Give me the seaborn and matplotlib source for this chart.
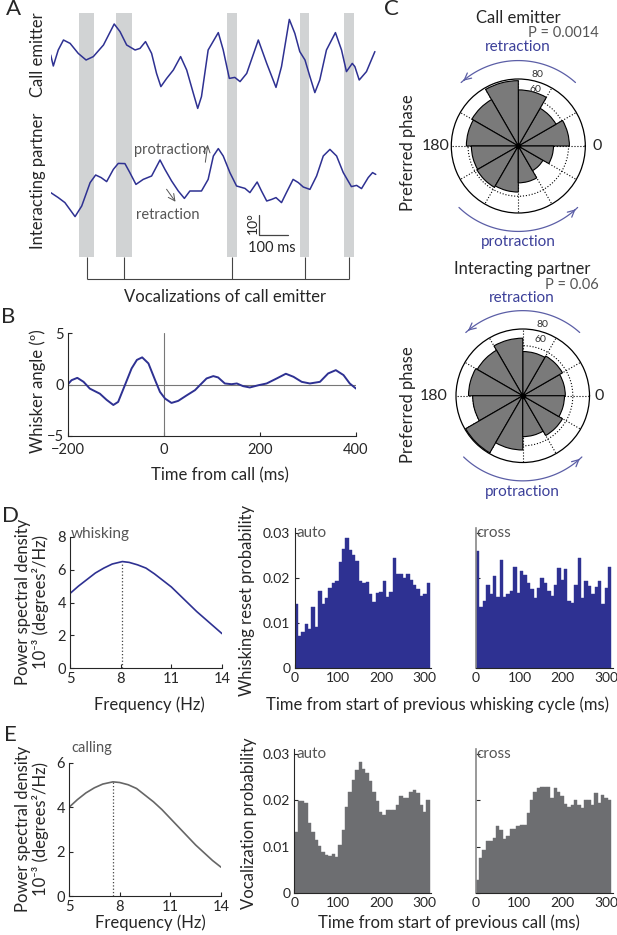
import numpy as np
import pandas as pd
import seaborn as sns
import matplotlib.pyplot as plt

sns.set_theme(style="ticks")
plt.rcParams['font.family'] = ['Lato', 'DejaVu Sans']
plt.rcParams['axes.linewidth'] = 0.8
plt.rcParams['xtick.direction'] = 'in'
plt.rcParams['ytick.direction'] = 'in'
plt.rcParams['xtick.major.size'] = 3
plt.rcParams['ytick.major.size'] = 3
plt.rcParams['xtick.major.width'] = 0.8
plt.rcParams['ytick.major.width'] = 0.8

NAVY = '#2E3192'
GRAY_BAR = '#6D6E71'
TXT_GRAY = '#555555'
LAB = 12      # axis label size
TICK = 10     # tick label size

# ---- panel A: example whisker traces (ms, degrees) ----
call_t = [0, 9, 26, 44, 67, 95, 122, 147, 182, 219, 239, 262, 291, 308, 327, 348, 365, 380, 400, 423,
          448, 469, 492, 507, 520, 543, 578, 595, 616, 635, 653, 676, 716, 745, 777, 796, 823, 842, 859, 877,
          894, 911, 928, 951, 982, 1003, 1020, 1040, 1049, 1064, 1089, 1118]
call_deg = [2.5, -3, 5, 10, 8.3, 3.3, 0, 1.7, 7.5, 18, 14.2, 7.5, 5, 5.8, 9.2, 3.3, -6.7, -13.3, -9.2, -5,
            1.7, -5, -16.7, -24.2, -18.3, 5, 13.7, 5, -9.2, -8.7, -10.8, -6.7, 10, -1.7, -13.7, -3.3, 20.3, 13.3, 4.2, 0,
            -8.3, -16.3, -10, 5, 13.7, 5, -5.8, -1.7, -3.3, -10, -5.8, 4.2]
partner_t = [0, 26, 49, 84, 107, 136, 155, 174, 193, 216, 233, 256, 273, 294, 319, 348, 377, 394, 417, 440,
             461, 480, 498, 520, 543, 561, 578, 595, 618, 641, 670, 687, 712, 727, 745, 762, 777, 796, 813, 836,
             854, 871, 894, 917, 940, 963, 986, 1009, 1037, 1055, 1072, 1095, 1110, 1121]
partner_deg = [-3.3, -5.8, -8.3, -15.3, -10, 1.7, 5.5, 4.2, 2.2, 8.3, 11.3, 11.2, 6.7, 0.8, 3.3, 5, 13, 8.3, 2.5, -2.5,
               -6.2, -2.5, -2.5, -2.5, 3.3, 15, 18.7, 15, 6.7, 0, -1.2, -3.3, 2, -2.5, -7.5, -6.7, -5.8, -8.3, -3.3, 3.3,
               1.7, -0.5, -1.7, 5, 15, 18.3, 15, 6.7, -0.3, 0.3, -1.3, 4.2, 6.7, 5.8]
voc_on = [98, 225, 608, 860, 1011]
voc_off = [149, 280, 642, 891, 1046]

# ---- panel B: call-triggered whisker angle ----
b_t = [-200, -192, -180, -167, -154, -133, -119, -105, -95, -81, -67, -56, -45, -32, -18, -8, 2.5, 16, 30, 48,
       65, 75, 89, 103, 113, 127, 141, 152, 165, 179, 197, 214, 235, 254, 270, 287, 304, 325, 342, 358,
       374, 387, 400]
b_deg = [0, 0.42, 0.65, 0.26, -0.4, -0.9, -1.5, -2.0, -1.7, -0.07, 1.57, 2.4, 2.65, 2.06, 0.42, -0.72, -1.37, -1.8, -1.6, -1.05,
         -0.55, -0.07, 0.59, 0.82, 0.69, 0.1, 0.03, 0.1, -0.16, -0.29, -0.07, 0.1, 0.59, 1.05, 0.75, 0.26, 0.1, 0.26, 1.08, 1.4,
         0.92, 0.1, -0.4]

# ---- panel C: preferred phase roses (bins of 30 deg starting at 0) ----
phase_start = [0, 30, 60, 90, 120, 150, 180, 210, 240, 270, 300, 330]
emitter_counts = [61, 52, 67, 78, 64, 62, 56, 57, 55, 44, 34, 42]
partner_counts = [51, 55, 53, 69, 63, 65, 60, 79, 65, 49, 55, 50]

# ---- panels D/E: spectra ----
whisk_f = [5, 5.5, 6, 6.5, 7, 7.5, 8.1, 8.5, 9, 9.5, 10, 10.5, 11, 11.5, 12, 12.5, 13, 13.5, 14]
whisk_psd = [4.55, 5.0, 5.4, 5.8, 6.1, 6.35, 6.5, 6.45, 6.3, 6.1, 5.75, 5.35, 4.95, 4.45, 3.95, 3.45, 3.0, 2.55, 2.1]
whisk_peak = 8.1
call_f = [5, 5.5, 6, 6.5, 7, 7.6, 8, 8.5, 9, 9.5, 10, 10.5, 11, 11.5, 12, 12.5, 13, 13.5, 14]
call_psd = [4.0, 4.35, 4.65, 4.88, 5.05, 5.15, 5.12, 5.02, 4.85, 4.55, 4.25, 3.9, 3.5, 3.1, 2.7, 2.3, 1.95, 1.6, 1.3]
call_peak = 7.6

# ---- panels D/E: histograms (probability per bin) ----
bin_width = 7.8
whisk_auto = [0.0142, 0.0071, 0.0080, 0.0098, 0.0086, 0.0136, 0.0091, 0.0171, 0.0142, 0.0156,
              0.0177, 0.0188, 0.0194, 0.0236, 0.0265, 0.0290, 0.0262, 0.0252, 0.0238, 0.0193,
              0.0190, 0.0192, 0.0165, 0.0146, 0.0166, 0.0170, 0.0193, 0.0158, 0.0170, 0.0245,
              0.0208, 0.0210, 0.0200, 0.0208, 0.0196, 0.0185, 0.0175, 0.0160, 0.0165, 0.0190]
whisk_cross = [0.0260, 0.0136, 0.0148, 0.0185, 0.0164, 0.0205, 0.0158, 0.0240, 0.0158, 0.0164,
               0.0172, 0.0225, 0.0167, 0.0215, 0.0206, 0.0189, 0.0175, 0.0156, 0.0178, 0.0200,
               0.0189, 0.0171, 0.0160, 0.0185, 0.0222, 0.0196, 0.0220, 0.0148, 0.0145, 0.0185,
               0.0245, 0.0156, 0.0194, 0.0182, 0.0164, 0.0180, 0.0194, 0.0142, 0.0178, 0.0225]
call_auto = [0.0131, 0.0199, 0.0198, 0.0194, 0.0151, 0.0133, 0.0115, 0.0101, 0.0090, 0.0083,
             0.0081, 0.0085, 0.0078, 0.0104, 0.0137, 0.0186, 0.0219, 0.0245, 0.0266, 0.0282,
             0.0268, 0.0259, 0.0241, 0.0219, 0.0198, 0.0176, 0.0169, 0.0180, 0.0180, 0.0180,
             0.0191, 0.0209, 0.0205, 0.0205, 0.0219, 0.0222, 0.0216, 0.0191, 0.0176, 0.0201]
call_cross = [0.0029, 0.0076, 0.0094, 0.0112, 0.0113, 0.0119, 0.0144, 0.0137, 0.0117, 0.0124,
              0.0138, 0.0138, 0.0144, 0.0147, 0.0147, 0.0173, 0.0201, 0.0219, 0.0227, 0.0229,
              0.0229, 0.0229, 0.0205, 0.0227, 0.0219, 0.0209, 0.0193, 0.0186, 0.0191, 0.0201,
              0.0191, 0.0183, 0.0201, 0.0201, 0.0191, 0.0216, 0.0194, 0.0212, 0.0205, 0.0200]

W, H = 617, 935
fig = plt.figure(figsize=(W / 100, H / 100), dpi=100)


def add_ax(l, t, r, b, **kw):
    return fig.add_axes([l / W, 1 - b / H, (r - l) / W, (b - t) / H], **kw)


def ftext(x, y, s, **kw):
    kw.setdefault('ha', 'center')
    kw.setdefault('va', 'center')
    fig.text(x / W, 1 - y / H, s, **kw)


# panel letters
for letter, (x, y) in zip('ABCDE', [(14, 9), (8, 317), (391, 9), (10, 516), (10, 735)]):
    ftext(x, y, letter, fontsize=16)

# ================= A =================
axA = add_ax(50.7, 13, 376.9, 279)
axA.set_xlim(0, 1125)
axA.set_ylim(-109.5, 23.5)
axA.axis('off')
partner_offset = -63
for on, off in zip(voc_on, voc_off):
    axA.bar(on, 23.5 + 98.5, width=off - on, bottom=-98.5, align='edge', color='#D1D3D4', lw=0)
sns.lineplot(x=call_t, y=call_deg, ax=axA, color=NAVY, lw=1.1, solid_joinstyle='round')
sns.lineplot(x=partner_t, y=np.array(partner_deg) + partner_offset, ax=axA, color=NAVY, lw=1.1,
             solid_joinstyle='round')
mids = [(a + b) / 2 for a, b in zip(voc_on, voc_off)]
axA.vlines(mids, -109.5, -98.5, color='#444444', lw=0.8, clip_on=False)
axA.hlines(-109.5, mids[0], mids[-1], color='#444444', lw=0.8, clip_on=False)
# scale bar
axA.plot([718, 718, 818], [-77.5, -87.5, -87.5], color='#444444', lw=0.9)
axA.text(697, -81.5, '10°', rotation=90, ha='center', va='center', fontsize=10)
axA.text(764, -94, '100 ms', ha='center', va='center', fontsize=10.5)
axA.text(411, -45, 'protraction', ha='center', va='center', fontsize=10.5, color=TXT_GRAY)
axA.annotate('', xy=(543, -41), xytext=(532, -52.5),
             arrowprops=dict(arrowstyle='->', color=TXT_GRAY, lw=0.7))
axA.text(405, -77.5, 'retraction', ha='center', va='center', fontsize=10.5, color=TXT_GRAY)
axA.annotate('', xy=(436, -72), xytext=(394, -63.5),
             arrowprops=dict(arrowstyle='->', color=TXT_GRAY, lw=0.7))
ftext(38, 55, 'Call emitter', rotation=90, fontsize=LAB)
ftext(38, 181, 'Interacting partner', rotation=90, fontsize=LAB)
ftext(225, 297, 'Vocalizations of call emitter', fontsize=LAB)

# ================= B =================
axB = add_ax(67.7, 333.3, 356, 435.7)
axB.axhline(0, color='#777777', lw=0.8)
axB.plot([0, 0], [-5, 5], color='#777777', lw=0.8)
sns.lineplot(x=b_t, y=b_deg, ax=axB, color=NAVY, lw=1.4)
axB.set_xlim(-200, 400)
axB.set_ylim(-5, 5)
axB.set_xticks([-200, 0, 200, 400])
axB.set_yticks([-5, 0, 5])
axB.tick_params(labelsize=10.5)
axB.tick_params(axis='x', pad=5)
axB.tick_params(axis='y', pad=3)
sns.despine(ax=axB)
ftext(38, 391, 'Whisker angle (º)', rotation=90, fontsize=LAB)
ftext(220, 475, 'Time from call (ms)', fontsize=LAB)

# ================= C =================
ARC = '#5B5EA6'
ARC_TXT = '#3B3F99'


def rose(l, t, r, b, counts):
    ax = add_ax(l, t, r, b, projection='polar')
    ax.bar(np.deg2rad(phase_start), counts, width=np.deg2rad(30), align='edge',
           color='#7A7A7A', edgecolor='black', lw=0.8, zorder=2)
    ax.set_ylim(0, 80)
    ax.set_xticks(np.deg2rad(np.arange(0, 360, 30)))
    ax.set_yticks([60])
    ax.set_xticklabels([])
    ax.set_yticklabels([])
    ax.grid(True, color='black', ls=':', lw=0.8)
    ax.set_axisbelow(True)
    ax.spines['polar'].set_color('black')
    ax.spines['polar'].set_linewidth(0.9)
    ax.plot(0, 0, 'o', color='black', ms=3, zorder=3)
    ax.text(np.deg2rad(75), 89, '80', fontsize=7.5, ha='center', va='center', color='#333333')
    ax.text(np.deg2rad(73), 71, '60', fontsize=7.5, ha='center', va='center', color='#333333')
    for a0, a1 in [(48, 132), (226, 314)]:
        th = np.deg2rad(np.linspace(a0, a1, 60))
        ax.plot(th, np.full_like(th, 102), color=ARC, lw=0.9, clip_on=False)
        ax.annotate('', xy=(th[-1], 102), xytext=(th[-4], 102), annotation_clip=False,
                    arrowprops=dict(arrowstyle='->', color=ARC, lw=0.9))
    return ax


rose(451.3, 79, 585.3, 213, emitter_counts)
ftext(518, 18, 'Call emitter', fontsize=LAB)
ftext(599, 33, 'P = 0.0014', fontsize=10.5, ha='right', color=TXT_GRAY)
ftext(518, 47, 'retraction', fontsize=11, color=ARC_TXT)
ftext(518, 242, 'protraction', fontsize=11, color=ARC_TXT)
ftext(408, 153, 'Preferred phase', rotation=90, fontsize=LAB)
ftext(436, 146, '180', fontsize=11.5)
ftext(597, 146, '0', fontsize=11.5)

rose(456, 329, 589.5, 462.5, partner_counts)
ftext(522, 269, 'Interacting partner', fontsize=LAB)
ftext(599, 285, 'P = 0.06', fontsize=10.5, ha='right', color=TXT_GRAY)
ftext(522, 298, 'retraction', fontsize=11, color=ARC_TXT)
ftext(522, 492, 'protraction', fontsize=11, color=ARC_TXT)
ftext(408, 405, 'Preferred phase', rotation=90, fontsize=LAB)
ftext(434, 396, '180', fontsize=11.5)
ftext(599, 396, '0', fontsize=11.5)


# ================= D / E =================
def psd_panel(l, t, r, b, f, p, peak, ymax, yticks, color):
    ax = add_ax(l, t, r, b)
    sns.lineplot(x=f, y=p, ax=ax, color=color, lw=1.2)
    ax.plot([peak, peak], [0, max(p)], color='#444444', ls=':', lw=0.9)
    ax.set_xlim(5, 14)
    ax.set_ylim(0, ymax)
    ax.set_xticks([5, 8, 11, 14])
    ax.set_yticks(yticks)
    ax.tick_params(labelsize=10.5, pad=3)
    sns.despine(ax=ax)
    return ax


def hist_panel(l, t, r, b, vals, color, label, show_y, ytop):
    ax = add_ax(l, t, r, b)
    n = len(vals)
    df = pd.DataFrame({'t': (np.arange(n) + 0.5) * bin_width, 'p': vals})
    sns.histplot(data=df, x='t', weights='p', binwidth=bin_width, binrange=(0, n * bin_width),
                 ax=ax, color=color, alpha=1, edgecolor=color, linewidth=0.3)
    ax.set_xlim(0, 315)
    ax.set_ylim(0, ytop)
    ax.set_xticks([0, 100, 200, 300])
    ax.set_yticks([0, 0.01, 0.02, 0.03])
    ax.set_ylabel('')
    ax.set_xlabel('')
    ax.tick_params(labelsize=TICK, pad=3)
    if show_y:
        ax.set_yticklabels(['0', '0.01', '0.02', '0.03'])
    else:
        ax.set_yticklabels([])
        ax.spines['left'].set_color('#888888')
        ax.spines['left'].set_linewidth(1.2)
    sns.despine(ax=ax)
    ax.text(4 if show_y else 1, 0.03, label, ha='left', va='center',
            fontsize=11, color=TXT_GRAY)
    return ax


psd_panel(70, 537, 222, 668, whisk_f, whisk_psd, whisk_peak, 8, [0, 2, 4, 6, 8], NAVY)
ftext(71, 534, 'whisking', ha='left', fontsize=11, color=TXT_GRAY)
ftext(32, 602, 'Power spectral density\n10⁻³ (degrees²/Hz)', rotation=90, fontsize=LAB, linespacing=1.05)
ftext(149, 705, 'Frequency (Hz)', fontsize=LAB)
hist_panel(294.5, 527.6, 431.3, 668, whisk_auto, NAVY, 'auto', True, 0.0312)
hist_panel(476, 527.6, 612.8, 668, whisk_cross, NAVY, 'cross', False, 0.0312)
ftext(247, 600, 'Whisking reset probability', rotation=90, fontsize=LAB)
ftext(437, 705, 'Time from start of previous whisking cycle (ms)', fontsize=LAB)

psd_panel(69, 763, 221, 896, call_f, call_psd, call_peak, 6, [0, 2, 4, 6], '#666666')
ftext(71, 748, 'calling', ha='left', fontsize=10.5, color=TXT_GRAY)
ftext(32, 829, 'Power spectral density\n10⁻³ (degrees²/Hz)', rotation=90, fontsize=LAB, linespacing=1.05)
ftext(150, 923, 'Frequency (Hz)', fontsize=LAB)
hist_panel(294.3, 749.4, 431.1, 893.3, call_auto, GRAY_BAR, 'auto', True, 0.031)
hist_panel(475.7, 749.4, 612.5, 893.3, call_cross, GRAY_BAR, 'cross', False, 0.031)
ftext(249, 823, 'Vocalization probability', rotation=90, fontsize=LAB)
ftext(449, 923, 'Time from start of previous call (ms)', fontsize=LAB)

fig.savefig('out.png', dpi=100)
